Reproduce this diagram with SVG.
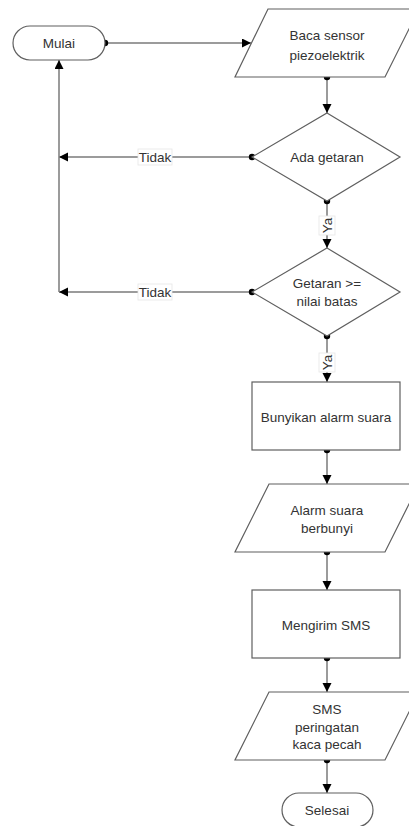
<svg xmlns="http://www.w3.org/2000/svg" width="409" height="826" viewBox="0 0 409 826">
<style>
.shape{fill:#fff;stroke:#5f5f5f;stroke-width:1.2}
.conn{fill:none;stroke:#7a7a7a;stroke-width:1.5}
.t{font-family:"Liberation Sans",Arial,sans-serif;font-size:13.5px;fill:#333;text-anchor:middle;dominant-baseline:central}
.lbl{fill:#fff;stroke:#e6e6e6;stroke-width:0.8}
</style>
<defs>
<marker id="arr" markerUnits="userSpaceOnUse" markerWidth="10" markerHeight="10" refX="9" refY="4.5" orient="auto">
<path d="M0,0 L9,4.5 L0,9 z" fill="#000"/>
</marker>
<marker id="dot" markerUnits="userSpaceOnUse" markerWidth="8" markerHeight="8" refX="4" refY="4" orient="auto">
<circle cx="4" cy="4" r="3.2" fill="#000"/>
</marker>
</defs>
<rect width="409" height="826" fill="#fff"/>
<g id="connectors">
<path class="conn" d="M105,43 L251,43" marker-start="url(#dot)" marker-end="url(#arr)"/>
<path class="conn" d="M327,77 L327,113" marker-start="url(#dot)" marker-end="url(#arr)"/>
<path class="conn" d="M252,157 L59,157" marker-start="url(#dot)" marker-end="url(#arr)"/>
<path class="conn" d="M327,201 L327,248" marker-start="url(#dot)" marker-end="url(#arr)"/>
<path class="conn" d="M252,292 L59,292" marker-start="url(#dot)" marker-end="url(#arr)"/>
<path class="conn" d="M59,292 L59,60" marker-end="url(#arr)"/>
<path class="conn" d="M327,336 L327,382" marker-start="url(#dot)" marker-end="url(#arr)"/>
<path class="conn" d="M327,450 L327,484" marker-start="url(#dot)" marker-end="url(#arr)"/>
<path class="conn" d="M327,552 L327,590" marker-start="url(#dot)" marker-end="url(#arr)"/>
<path class="conn" d="M327,658 L327,692" marker-start="url(#dot)" marker-end="url(#arr)"/>
<path class="conn" d="M327,760 L327,793" marker-start="url(#dot)" marker-end="url(#arr)"/>
<g id="label-tidak1"><rect class="lbl" x="138" y="149" width="34" height="16"/><text class="t" x="155" y="157">Tidak</text></g>
<g id="label-tidak2"><rect class="lbl" x="138" y="284" width="34" height="16"/><text class="t" x="155" y="292">Tidak</text></g>
<g id="label-ya1"><rect class="lbl" x="319" y="216" width="16" height="19"/><text class="t" x="327" y="225.5" transform="rotate(-90 327 225.5)">Ya</text></g>
<g id="label-ya2"><rect class="lbl" x="319" y="353" width="16" height="19"/><text class="t" x="327" y="362.5" transform="rotate(-90 327 362.5)">Ya</text></g>
</g>
<g id="mulai"><rect class="shape" x="13" y="26" width="92" height="34" rx="17"/><text class="t" x="59" y="43">Mulai</text></g>
<g id="baca"><polygon class="shape" points="268,9 419,9 385,77 235,77"/><text class="t" x="327" y="35">Baca sensor</text><text class="t" x="327" y="55">piezoelektrik</text></g>
<g id="ada"><polygon class="shape" points="327,113 400,157 327,201 252,157"/><text class="t" x="327" y="157">Ada getaran</text></g>
<g id="getaran"><polygon class="shape" points="327,248 400,292 327,336 252,292"/><text class="t" x="327" y="283">Getaran &gt;=</text><text class="t" x="327" y="301">nilai batas</text></g>
<g id="bunyikan"><rect class="shape" x="252" y="382" width="148" height="68"/><text class="t" x="326" y="417">Bunyikan alarm suara</text></g>
<g id="alarm"><polygon class="shape" points="269,484 419,484 385,552 235,552"/><text class="t" x="327" y="510">Alarm suara</text><text class="t" x="327" y="528">berbunyi</text></g>
<g id="sms"><rect class="shape" x="252" y="590" width="148" height="68"/><text class="t" x="326" y="625">Mengirim SMS</text></g>
<g id="peringatan"><polygon class="shape" points="269,692 419,692 385,760 235,760"/><text class="t" x="327" y="709">SMS</text><text class="t" x="327" y="727">peringatan</text><text class="t" x="327" y="744">kaca pecah</text></g>
<g id="selesai"><rect class="shape" x="282" y="793" width="91" height="34" rx="17"/><text class="t" x="327" y="810">Selesai</text></g>
</svg>
